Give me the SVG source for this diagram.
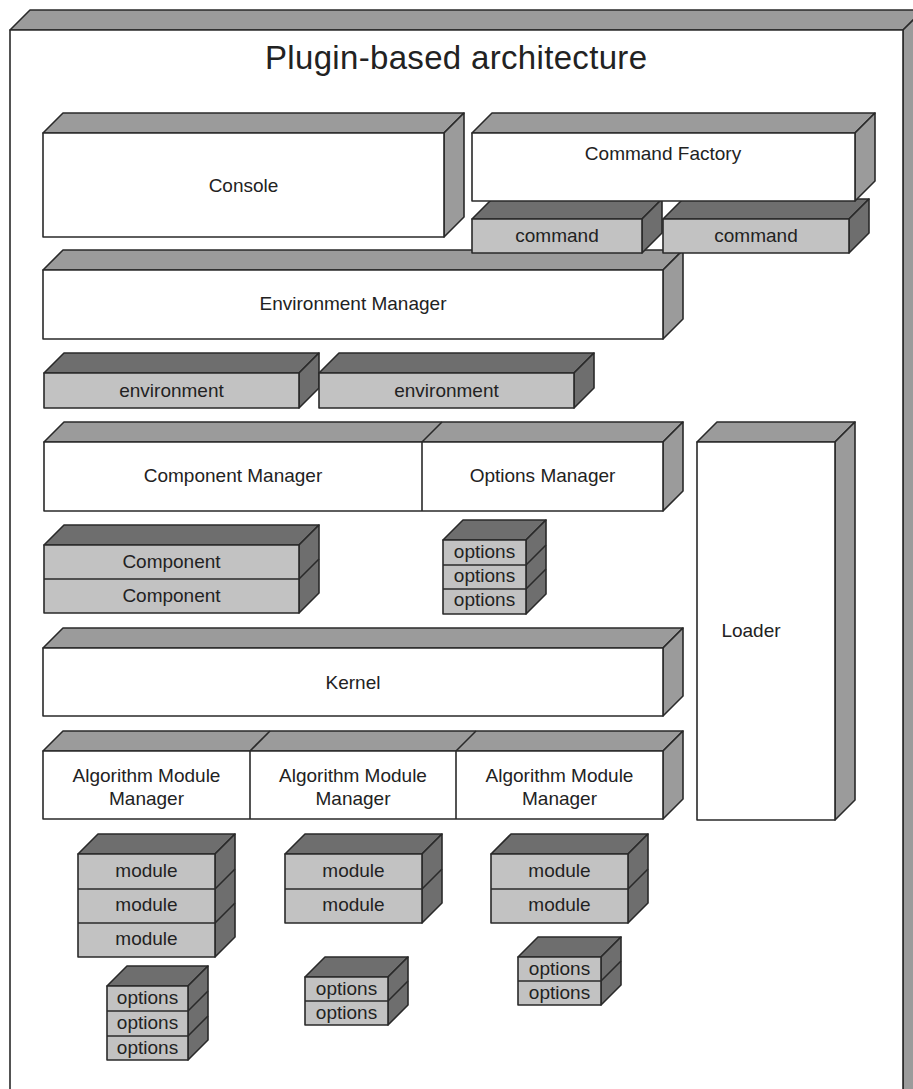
<svg xmlns="http://www.w3.org/2000/svg" width="913" height="1089" viewBox="0 0 913 1089">
<style>
.s{stroke:#2a2a2a;stroke-width:1.6;stroke-linejoin:round}
.wt{fill:#9b9b9b}
.wf{fill:#ffffff}
.gt{fill:#6e6e6e}
.gf{fill:#c2c2c2}
.ln{fill:none;stroke:#2a2a2a;stroke-width:1.6}
text{font-family:"Liberation Sans",Arial,sans-serif;font-size:19px;fill:#222222;text-anchor:middle}
.title{font-size:33px}
</style>
<rect width="913" height="1089" fill="#ffffff"/>

<g id="outer">
<polygon class="s wt" points="10,30 30,10 925,10 903,30"/>
<polygon class="s wt" points="903,30 925,8 925,1095 903,1095"/>
<rect class="s wf" x="10" y="30" width="893" height="1065"/>
<text class="title" x="456" y="69" textLength="382" lengthAdjust="spacing">Plugin-based architecture</text>
</g>

<g id="console">
<polygon class="s wt" points="43,133 63,113 464,113 444,133"/>
<polygon class="s wt" points="444,133 464,113 464,217 444,237"/>
<rect class="s wf" x="43" y="133" width="401" height="104"/>
<text x="243.5" y="192">Console</text>
</g>

<g id="environment-manager">
<polygon class="s wt" points="43,270 63,250 683,250 663,270"/>
<polygon class="s wt" points="663,270 683,250 683,319 663,339"/>
<rect class="s wf" x="43" y="270" width="620" height="69"/>
<text x="353" y="310">Environment Manager</text>
</g>

<g id="command-1">
<polygon class="s gt" points="472,219 492,199 662,199 642,219"/>
<polygon class="s gt" points="642,219 662,199 662,233 642,253"/>
<rect class="s gf" x="472" y="219" width="170" height="34"/>
<text x="557" y="242">command</text>
</g>

<g id="command-2">
<polygon class="s gt" points="663,219 683,199 869,199 849,219"/>
<polygon class="s gt" points="849,219 869,199 869,233 849,253"/>
<rect class="s gf" x="663" y="219" width="186" height="34"/>
<text x="756" y="242">command</text>
</g>

<g id="command-factory">
<polygon class="s wt" points="472,133 492,113 875,113 855,133"/>
<polygon class="s wt" points="855,133 875,113 875,181 855,201"/>
<rect class="s wf" x="472" y="133" width="383" height="68"/>
<text x="663" y="160">Command Factory</text>
</g>

<g id="environment-1">
<polygon class="s gt" points="44,373 64,353 319,353 299,373"/>
<polygon class="s gt" points="299,373 319,353 319,388 299,408"/>
<rect class="s gf" x="44" y="373" width="255" height="35"/>
<text x="171.5" y="397">environment</text>
</g>

<g id="environment-2">
<polygon class="s gt" points="319,373 339,353 594,353 574,373"/>
<polygon class="s gt" points="574,373 594,353 594,388 574,408"/>
<rect class="s gf" x="319" y="373" width="255" height="35"/>
<text x="446.5" y="397">environment</text>
</g>

<g id="component-options-manager">
<polygon class="s wt" points="44,442 64,422 683,422 663,442"/>
<line class="ln" x1="422" y1="442" x2="442" y2="422"/>
<polygon class="s wt" points="663,442 683,422 683,491 663,511"/>
<rect class="s wf" x="44" y="442" width="619" height="69"/>
<line class="ln" x1="422" y1="442" x2="422" y2="511"/>
<text x="233" y="482">Component Manager</text>
<text x="542.5" y="482">Options Manager</text>
</g>

<g id="component-stack">
<polygon class="s gt" points="44,545 64,525 319,525 299,545"/>
<polygon class="s gt" points="299,545 319,525 319,593 299,613"/>
<line class="ln" x1="299" y1="579" x2="319" y2="559"/>
<rect class="s gf" x="44" y="545" width="255" height="68"/>
<line class="ln" x1="44" y1="579" x2="299" y2="579"/>
<text x="171.5" y="568">Component</text>
<text x="171.5" y="602">Component</text>
</g>

<g id="options-stack-center">
<polygon class="s gt" points="443,540 463,520 546,520 526,540"/>
<polygon class="s gt" points="526,540 546,520 546,594 526,614"/>
<line class="ln" x1="526" y1="565" x2="546" y2="545"/>
<line class="ln" x1="526" y1="589" x2="546" y2="569"/>
<rect class="s gf" x="443" y="540" width="83" height="74"/>
<line class="ln" x1="443" y1="565" x2="526" y2="565"/>
<line class="ln" x1="443" y1="589" x2="526" y2="589"/>
<text x="484.5" y="558">options</text>
<text x="484.5" y="582">options</text>
<text x="484.5" y="606">options</text>
</g>

<g id="kernel">
<polygon class="s wt" points="43,648 63,628 683,628 663,648"/>
<polygon class="s wt" points="663,648 683,628 683,696 663,716"/>
<rect class="s wf" x="43" y="648" width="620" height="68"/>
<text x="353" y="689">Kernel</text>
</g>

<g id="algorithm-module-managers">
<polygon class="s wt" points="43,751 63,731 683,731 663,751"/>
<line class="ln" x1="250" y1="751" x2="270" y2="731"/>
<line class="ln" x1="456" y1="751" x2="476" y2="731"/>
<polygon class="s wt" points="663,751 683,731 683,799 663,819"/>
<rect class="s wf" x="43" y="751" width="620" height="68"/>
<line class="ln" x1="250" y1="751" x2="250" y2="819"/>
<line class="ln" x1="456" y1="751" x2="456" y2="819"/>
<text x="146.5" y="782">Algorithm Module</text>
<text x="146.5" y="805">Manager</text>
<text x="353" y="782">Algorithm Module</text>
<text x="353" y="805">Manager</text>
<text x="559.5" y="782">Algorithm Module</text>
<text x="559.5" y="805">Manager</text>
</g>

<g id="loader">
<polygon class="s wt" points="697,442 717,422 855,422 835,442"/>
<polygon class="s wt" points="835,442 855,422 855,800 835,820"/>
<rect class="s wf" x="697" y="442" width="138" height="378"/>
<text x="751" y="637">Loader</text>
</g>

<g id="module-stack-1">
<polygon class="s gt" points="78,854 98,834 235,834 215,854"/>
<polygon class="s gt" points="215,854 235,834 235,937 215,957"/>
<line class="ln" x1="215" y1="889" x2="235" y2="869"/>
<line class="ln" x1="215" y1="923" x2="235" y2="903"/>
<rect class="s gf" x="78" y="854" width="137" height="103"/>
<line class="ln" x1="78" y1="889" x2="215" y2="889"/>
<line class="ln" x1="78" y1="923" x2="215" y2="923"/>
<text x="146.5" y="877">module</text>
<text x="146.5" y="911">module</text>
<text x="146.5" y="945">module</text>
</g>

<g id="options-stack-1">
<polygon class="s gt" points="107,986 127,966 208,966 188,986"/>
<polygon class="s gt" points="188,986 208,966 208,1040 188,1060"/>
<line class="ln" x1="188" y1="1011" x2="208" y2="991"/>
<line class="ln" x1="188" y1="1036" x2="208" y2="1016"/>
<rect class="s gf" x="107" y="986" width="81" height="74"/>
<line class="ln" x1="107" y1="1011" x2="188" y2="1011"/>
<line class="ln" x1="107" y1="1036" x2="188" y2="1036"/>
<text x="147.5" y="1004">options</text>
<text x="147.5" y="1029">options</text>
<text x="147.5" y="1054">options</text>
</g>

<g id="module-stack-2">
<polygon class="s gt" points="285,854 305,834 442,834 422,854"/>
<polygon class="s gt" points="422,854 442,834 442,903 422,923"/>
<line class="ln" x1="422" y1="889" x2="442" y2="869"/>
<rect class="s gf" x="285" y="854" width="137" height="69"/>
<line class="ln" x1="285" y1="889" x2="422" y2="889"/>
<text x="353.5" y="877">module</text>
<text x="353.5" y="911">module</text>
</g>

<g id="options-stack-2">
<polygon class="s gt" points="305,977 325,957 408,957 388,977"/>
<polygon class="s gt" points="388,977 408,957 408,1005 388,1025"/>
<line class="ln" x1="388" y1="1001" x2="408" y2="981"/>
<rect class="s gf" x="305" y="977" width="83" height="48"/>
<line class="ln" x1="305" y1="1001" x2="388" y2="1001"/>
<text x="346.5" y="995">options</text>
<text x="346.5" y="1019">options</text>
</g>

<g id="module-stack-3">
<polygon class="s gt" points="491,854 511,834 648,834 628,854"/>
<polygon class="s gt" points="628,854 648,834 648,903 628,923"/>
<line class="ln" x1="628" y1="889" x2="648" y2="869"/>
<rect class="s gf" x="491" y="854" width="137" height="69"/>
<line class="ln" x1="491" y1="889" x2="628" y2="889"/>
<text x="559.5" y="877">module</text>
<text x="559.5" y="911">module</text>
</g>

<g id="options-stack-3">
<polygon class="s gt" points="518,957 538,937 621,937 601,957"/>
<polygon class="s gt" points="601,957 621,937 621,985 601,1005"/>
<line class="ln" x1="601" y1="981" x2="621" y2="961"/>
<rect class="s gf" x="518" y="957" width="83" height="48"/>
<line class="ln" x1="518" y1="981" x2="601" y2="981"/>
<text x="559.5" y="975">options</text>
<text x="559.5" y="999">options</text>
</g>

<g id="connectors"></g>
</svg>
